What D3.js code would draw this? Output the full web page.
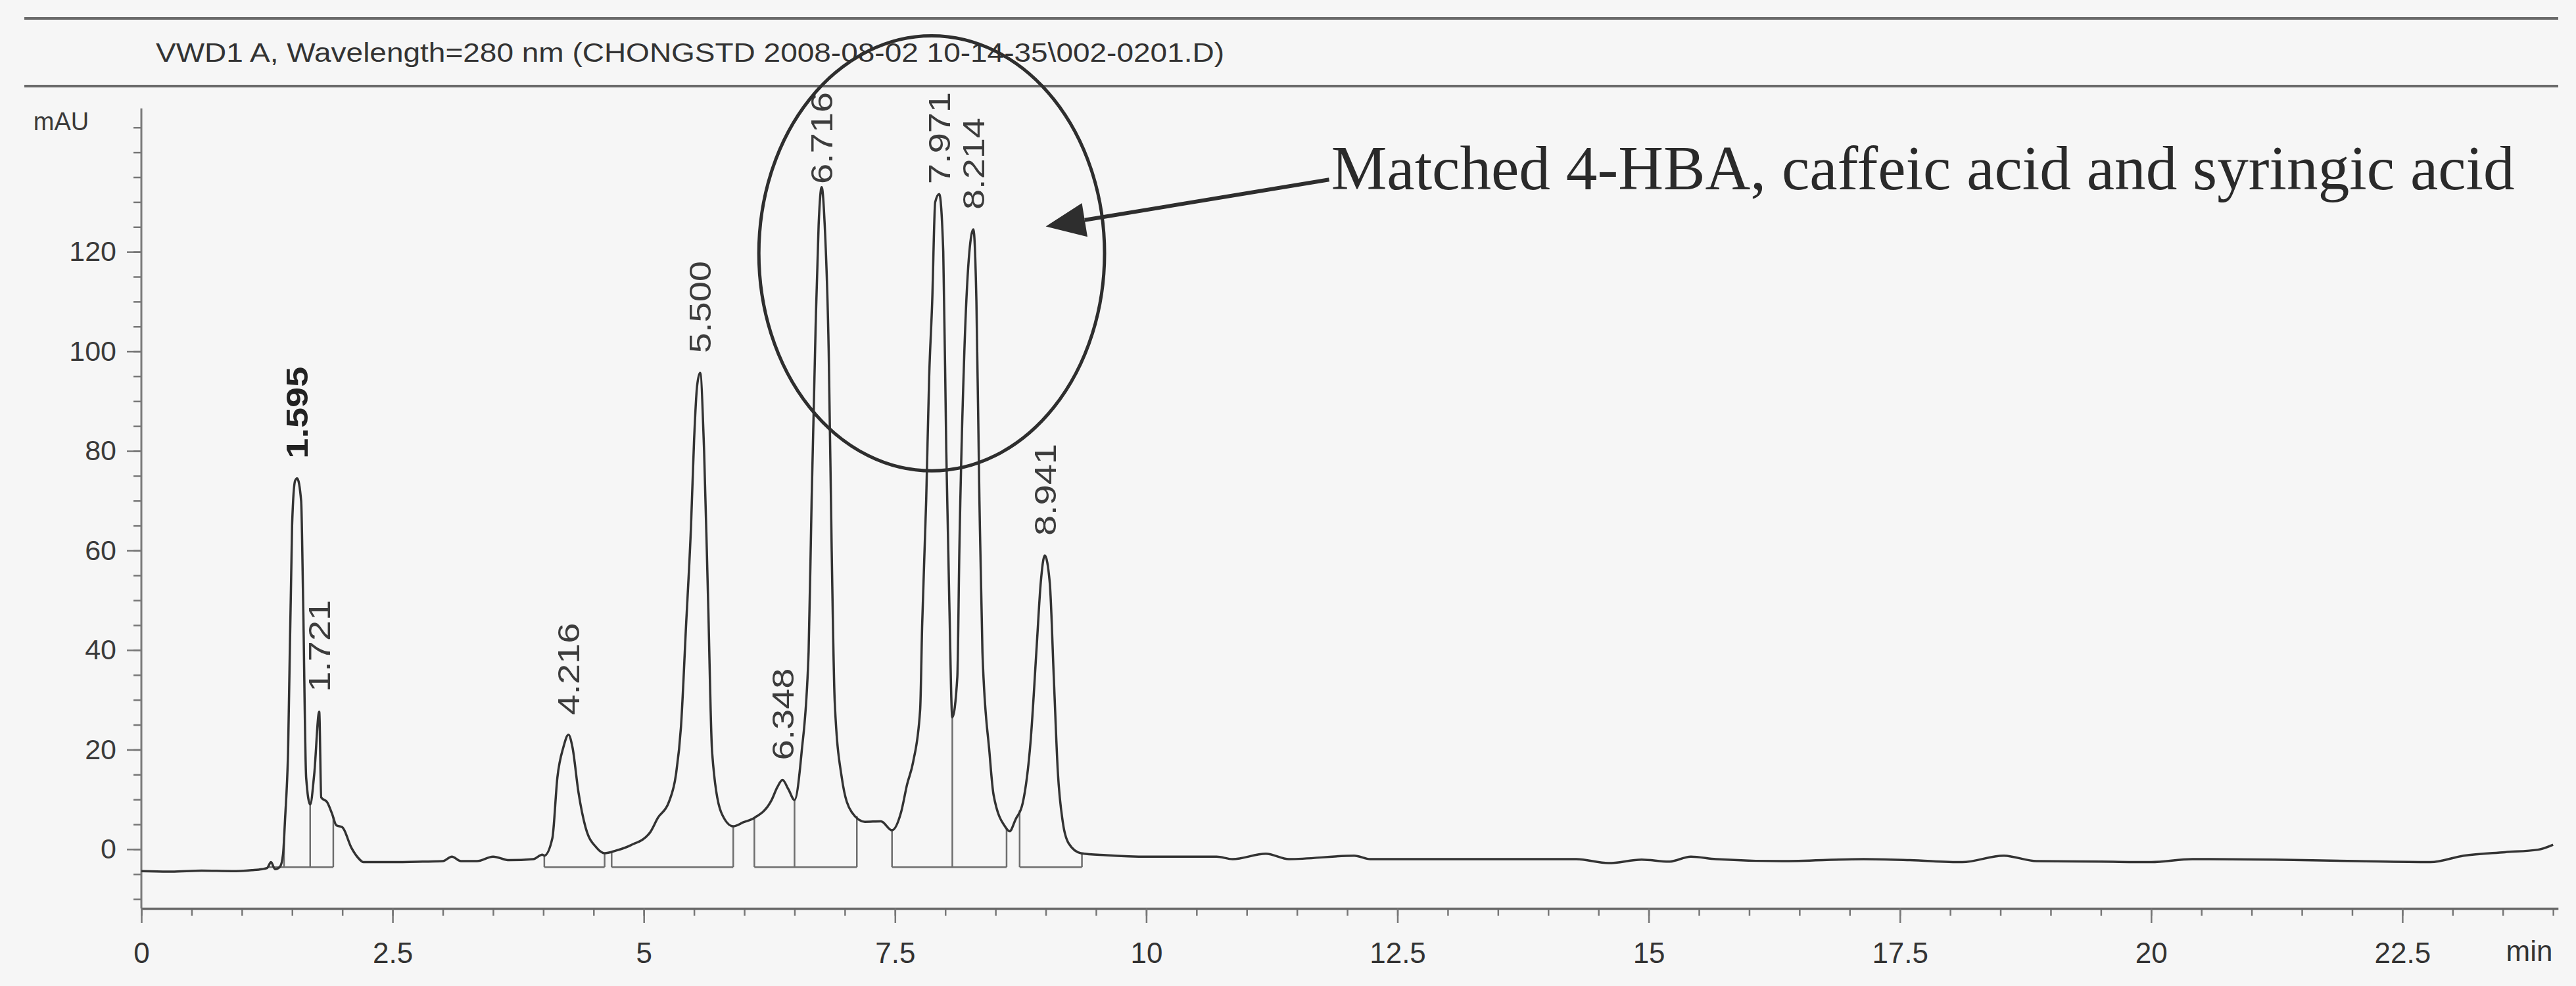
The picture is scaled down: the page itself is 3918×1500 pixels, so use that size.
<!DOCTYPE html>
<html><head><meta charset="utf-8">
<script src="https://cdn.jsdelivr.net/npm/d3@7"></script>
<style>html,body{margin:0;padding:0;background:#f6f6f6;} svg{display:block}</style>
</head><body><svg id="c" width="3918" height="1500"></svg>
<script>
// ---- data ----
const traceTime = [0.00,0.30,0.60,0.90,1.10,1.20,1.25,1.29,1.33,1.38,1.41,1.43,1.46,1.50,1.53,1.55,1.59,1.61,1.64,1.68,1.72,1.77,1.79,1.85,1.90,1.94,2.00,2.09,2.16,2.21,2.50,2.80,3.00,3.09,3.18,3.34,3.50,3.66,3.90,3.99,4.01,4.09,4.14,4.20,4.25,4.29,4.35,4.42,4.53,4.61,4.72,4.87,5.06,5.14,5.25,5.32,5.37,5.42,5.47,5.50,5.53,5.56,5.60,5.64,5.68,5.77,5.89,5.99,6.10,6.27,6.33,6.38,6.44,6.50,6.57,6.64,6.67,6.71,6.74,6.77,6.80,6.84,6.87,6.90,6.97,7.07,7.20,7.36,7.47,7.56,7.62,7.68,7.75,7.77,7.81,7.84,7.87,7.90,7.94,7.98,8.01,8.04,8.07,8.12,8.14,8.19,8.24,8.28,8.31,8.34,8.37,8.44,8.48,8.60,8.64,8.70,8.77,8.85,8.91,8.95,8.99,9.04,9.08,9.12,9.17,9.23,9.35,9.60,10.02,10.70,10.86,11.19,11.42,12.07,12.23,13.00,14.28,14.60,14.93,15.20,15.42,15.67,16.32,17.14,17.60,18.12,18.53,18.86,19.50,20.00,20.41,21.23,22.05,22.78,23.11,23.52,23.85,24.00];
const traceMAU = [-4.4,-4.5,-4.3,-4.4,-4.2,-4.0,-3.8,-2.6,-4.0,-3.5,-1.0,6.0,19.4,65.0,74.0,74.5,70.0,49.8,14.4,9.0,15.0,27.6,10.4,9.4,7.0,4.8,4.4,0.3,-1.8,-2.6,-2.6,-2.5,-2.4,-1.5,-2.4,-2.4,-1.5,-2.2,-2.0,-1.1,-1.3,2.2,14.4,20.5,23.0,20.5,11.4,4.4,0.3,-0.8,-0.3,0.8,3.3,6.3,9.5,15.0,24.6,44.7,65.0,82.0,93.0,95.7,80.0,49.8,19.4,7.4,4.6,5.4,6.3,9.8,12.5,13.9,12.0,9.9,19.4,39.6,70.0,105.0,125.5,133.0,125.5,100.0,59.8,29.6,14.4,7.4,5.5,5.6,3.8,7.4,13.0,17.5,28.0,45.0,70.0,95.0,110.0,130.0,131.6,120.0,80.0,49.8,26.5,34.6,59.8,100.0,120.0,124.5,110.0,70.0,39.6,19.4,11.0,4.4,3.6,6.0,9.2,21.9,40.8,53.5,59.0,53.5,34.5,15.6,5.4,1.1,-0.8,-1.2,-1.5,-1.5,-2.0,-0.9,-2.0,-1.3,-2.0,-2.0,-2.0,-2.8,-2.1,-2.5,-1.5,-2.0,-2.4,-2.0,-2.2,-2.6,-1.3,-2.4,-2.5,-2.6,-2.0,-2.1,-2.4,-2.6,-1.3,-0.6,-0.1,0.9];

const peakApexTime = [1.55,1.77,4.25,5.56,6.38,6.77,7.94,8.28,8.99];
const peakLabels = ["1.595","1.721","4.216","5.500","6.348","6.716","7.971","8.214","8.941"];

const integStart = [1.27,4.01,4.68,6.10,7.47,8.74];
const integEnd   = [1.91,4.61,5.89,7.12,8.61,9.36];
const dropTimes  = [1.42,1.68,6.50,8.07];
const integLevel = -3.6;

const xTickValues = [0,2.5,5,7.5,10,12.5,15,17.5,20,22.5];
const xTickLabels = ["0","2.5","5","7.5","10","12.5","15","17.5","20","22.5"];
const yTickValues = [0,20,40,60,80,100,120];
const yTickLabels = ["0","20","40","60","80","100","120"];

const titleText = "VWD1 A, Wavelength=280 nm (CHONGSTD 2008-08-02 10-14-35\\002-0201.D)";
const noteText = "Matched 4-HBA, caffeic acid and syringic acid";
// annotation ellipse (data units): centre time, centre mAU, radius in min, radius in mAU
const noteEllipse = [7.865, 119.7, 1.72, 43.7];
// arrow tip and tail (time, mAU)
const arrowTip = [9.00, 125.1];
const arrowTail = [11.82, 134.5];
const noteAnchor = [11.84, 132.5];

// ---- drawing ----
const W = 3918, H = 1500;
const svg = d3.select('#c');
svg.append('rect').attr('width', W).attr('height', H).attr('fill', '#f6f6f6');

const x = d3.scaleLinear().domain([0, 24.05]).range([215, 215 + 24.05 * 152.84]);
const y = d3.scaleLinear().domain([-11.9, 148.8]).range([1382, 165]);

const ink = '#333';

// frame lines
[28, 131].forEach(yy => {
  svg.append('line').attr('x1', 37).attr('x2', 3891).attr('y1', yy).attr('y2', yy)
    .attr('stroke', '#6a6a6a').attr('stroke-width', 4);
});

// title
svg.append('text').attr('x', 237).attr('y', 94)
  .attr('font-family', 'Liberation Sans, Arial, sans-serif').attr('font-size', 40)
  .attr('fill', ink).attr('textLength', 1625).attr('lengthAdjust', 'spacingAndGlyphs')
  .text(titleText);

// y axis
const yAxisG = svg.append('g').attr('transform', `translate(${x(0)},0)`);
yAxisG.call(d3.axisLeft(y).tickValues(d3.range(-10, 150, 5)).tickSize(12).tickSizeOuter(0).tickFormat(''));
yAxisG.call(g => g.select('.domain').remove());
const yMajor = svg.append('g').attr('transform', `translate(${x(0)},0)`)
  .call(d3.axisLeft(y).tickValues(yTickValues).tickSize(22).tickPadding(16).tickSizeOuter(0)
    .tickFormat((d, i) => yTickLabels[i]));
yMajor.select('.domain').remove();
[yAxisG, yMajor].forEach(g => {
  g.selectAll('line').attr('stroke', '#777').attr('stroke-width', 2.5);
  g.selectAll('text').attr('font-family', 'Liberation Sans, Arial, sans-serif')
    .attr('font-size', 43).attr('fill', '#3a3a3a');
});
svg.append('line').attr('x1', x(0)).attr('x2', x(0)).attr('y1', y(148.8)).attr('y2', y(-11.9))
  .attr('stroke', '#7a7a7a').attr('stroke-width', 3);

svg.append('text').attr('x', 93).attr('y', 198).attr('text-anchor', 'middle')
  .attr('font-family', 'Liberation Sans, Arial, sans-serif').attr('font-size', 38)
  .attr('fill', '#3a3a3a').text('mAU');

// x axis
const xMinor = svg.append('g').attr('transform', `translate(0,${y(-11.9)})`)
  .call(d3.axisBottom(x).tickValues(d3.range(0, 24.01, 0.5)).tickSize(11).tickSizeOuter(0).tickFormat(''));
xMinor.select('.domain').remove();
const xMajor = svg.append('g').attr('transform', `translate(0,${y(-11.9)})`)
  .call(d3.axisBottom(x).tickValues(xTickValues).tickSize(22).tickPadding(30).tickSizeOuter(0)
    .tickFormat((d, i) => xTickLabels[i]));
xMajor.select('.domain').attr('stroke', '#6a6a6a').attr('stroke-width', 3.5);
[xMinor, xMajor].forEach(g => {
  g.selectAll('line').attr('stroke', '#777').attr('stroke-width', 2.5);
  g.selectAll('text').attr('font-family', 'Liberation Sans, Arial, sans-serif')
    .attr('font-size', 44).attr('fill', '#333');
});
svg.append('text').attr('x', 3847).attr('y', 1462).attr('text-anchor', 'middle')
  .attr('font-family', 'Liberation Sans, Arial, sans-serif').attr('font-size', 44)
  .attr('fill', '#333').text('min');

// helper: value of trace at time t
const bis = d3.bisector(d => d).left;
function valueAt(t) {
  let i = bis(traceTime, t);
  if (i <= 0) return traceMAU[0];
  if (i >= traceTime.length) return traceMAU[traceTime.length - 1];
  const t0 = traceTime[i - 1], t1 = traceTime[i];
  const f = (t - t0) / (t1 - t0);
  return traceMAU[i - 1] + f * (traceMAU[i] - traceMAU[i - 1]);
}

// integration baseline segments and drop lines
const integG = svg.append('g').attr('stroke', '#6e6e6e').attr('stroke-width', 2.5).attr('fill', 'none');
integStart.forEach((s, i) => {
  const e = integEnd[i];
  integG.append('line').attr('x1', x(s)).attr('x2', x(e)).attr('y1', y(integLevel)).attr('y2', y(integLevel));
  [s, e].forEach(t => {
    integG.append('line').attr('x1', x(t)).attr('x2', x(t))
      .attr('y1', y(integLevel)).attr('y2', y(valueAt(t)));
  });
});
dropTimes.forEach(t => {
  integG.append('line').attr('x1', x(t)).attr('x2', x(t))
    .attr('y1', y(integLevel)).attr('y2', y(valueAt(t)));
});

// trace
const pts = traceTime.map((t, i) => [t, traceMAU[i]]);
const line = d3.line().x(d => x(d[0])).y(d => y(d[1])).curve(d3.curveMonotoneX);
svg.append('path').datum(pts).attr('d', line).attr('fill', 'none')
  .attr('stroke', ink).attr('stroke-width', 3.5).attr('stroke-linejoin', 'round');

// peak labels
const labelLen = 140;
peakApexTime.forEach((t, i) => {
  const apexY = y(valueAt(t));
  let bottom = apexY - 30;
  if (bottom - labelLen < 140) bottom = 140 + labelLen;
  svg.append('text')
    .attr('transform', `translate(${x(t)},${bottom}) rotate(-90)`)
    .attr('dy', '0.36em')
    .attr('font-family', 'Liberation Sans, Arial, sans-serif')
    .attr('font-size', 46)
    .attr('font-weight', i === 0 ? 'bold' : 'normal')
    .attr('fill', i === 0 ? '#222' : '#3c3c3c')
    .attr('textLength', labelLen).attr('lengthAdjust', 'spacingAndGlyphs')
    .text(peakLabels[i]);
});

// annotation ellipse
svg.append('ellipse')
  .attr('cx', x(noteEllipse[0])).attr('cy', y(noteEllipse[1]))
  .attr('rx', x(noteEllipse[2]) - x(0)).attr('ry', y(0) - y(noteEllipse[3]))
  .attr('fill', 'none').attr('stroke', '#2e2e2e').attr('stroke-width', 5);

// arrow
const tx = x(arrowTip[0]), ty = y(arrowTip[1]);
const sx = x(arrowTail[0]), sy = y(arrowTail[1]);
const len = Math.hypot(sx - tx, sy - ty);
const ux = (sx - tx) / len, uy = (sy - ty) / len;
const headL = 60, headW = 26;
const bx = tx + ux * headL, by = ty + uy * headL;
svg.append('line').attr('x1', sx).attr('y1', sy).attr('x2', bx).attr('y2', by)
  .attr('stroke', '#2e2e2e').attr('stroke-width', 6);
svg.append('polygon')
  .attr('points', [[tx, ty], [bx - uy * headW, by + ux * headW], [bx + uy * headW, by - ux * headW]].map(p => p.join(',')).join(' '))
  .attr('fill', '#2e2e2e');

svg.append('text').attr('x', x(noteAnchor[0])).attr('y', y(noteAnchor[1]))
  .attr('font-family', 'Liberation Serif, Times New Roman, serif').attr('font-size', 95)
  .attr('fill', '#2a2a2a').attr('textLength', 1800).attr('lengthAdjust', 'spacingAndGlyphs')
  .text(noteText);
</script>
</body></html>
